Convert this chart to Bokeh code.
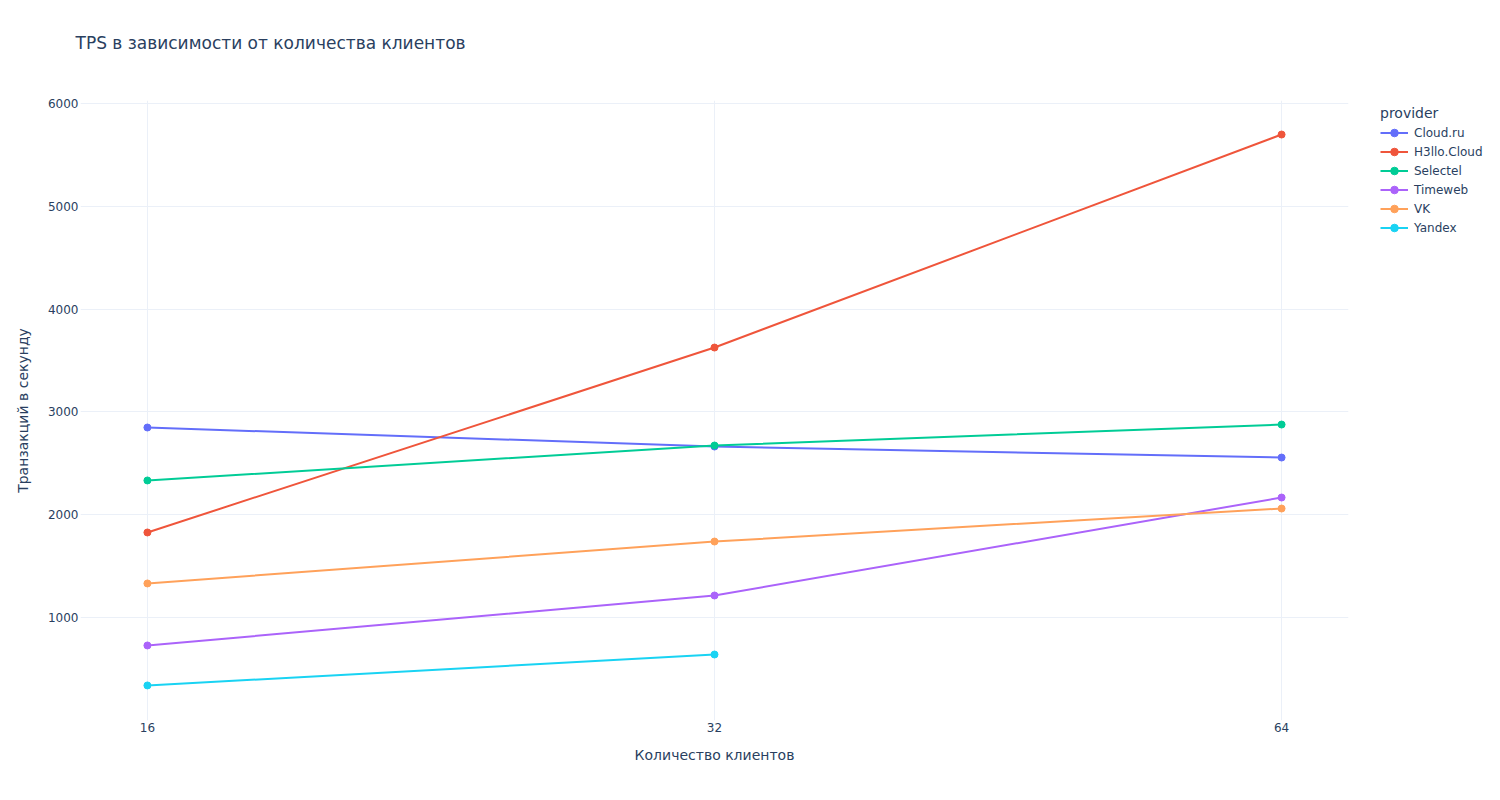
from bokeh.plotting import figure
from bokeh.models import Range1d, FixedTicker, NumeralTickFormatter, Legend, LegendItem, Title
from bokeh.embed import file_html
from bokeh.resources import INLINE

# ---- data ----
clients = [16, 32, 64]
providers = ["Cloud.ru", "H3llo.Cloud", "Selectel", "Timeweb", "VK", "Yandex"]
cloud_ru = [2848, 2663, 2556]
h3llo_cloud = [1827, 3626, 5698]
selectel = [2333, 2673, 2877]
timeweb = [728, 1214, 2167]
vk = [1331, 1739, 2060]
yandex_clients = [16, 32]
yandex = [339, 640]
y_ticks = [1000, 2000, 3000, 4000, 5000, 6000]

series = [
    ("Cloud.ru", clients, cloud_ru, "#636efa"),
    ("H3llo.Cloud", clients, h3llo_cloud, "#EF553B"),
    ("Selectel", clients, selectel, "#00cc96"),
    ("Timeweb", clients, timeweb, "#ab63fa"),
    ("VK", clients, vk, "#FFA15A"),
    ("Yandex", yandex_clients, yandex, "#19d3f3"),
]

FONT = "DejaVu Sans"
TXT = "#2a3f5f"
GRID = "#EBF0F8"

p = figure(
    frame_width=1268, frame_height=620,
    x_axis_type="log",
    x_range=Range1d(16 * 2 ** -0.118, 64 * 2 ** 0.118),
    y_range=Range1d(-2, 6029),
    output_backend="svg", toolbar_location=None,
    min_border_left=80, min_border_right=152, min_border_top=100, min_border_bottom=80,
)
p.outline_line_color = None
p.background_fill_color = "white"
p.border_fill_color = "white"

# spacer between frame and title (closest to the frame)
spacer = Title(text=" ", text_font_size="1px", standoff=45)
p.add_layout(spacer, "above")

p.title.text = "TPS в зависимости от количества клиентов"
p.title.text_font = FONT
p.title.text_font_size = "17px"
p.title.text_font_style = "normal"
p.title.text_color = TXT
p.title.offset = -5
p.title.standoff = 0

# x axis
p.xaxis.ticker = FixedTicker(ticks=clients, minor_ticks=[])
p.xaxis.formatter = NumeralTickFormatter(format="0")
p.xaxis.axis_label = "Количество клиентов"
# y axis
p.yaxis.ticker = FixedTicker(ticks=y_ticks, minor_ticks=[])
p.yaxis.axis_label = "Транзакций в секунду"

for ax in (p.xaxis[0], p.yaxis[0]):
    ax.axis_line_color = None
    ax.major_tick_line_color = None
    ax.minor_tick_line_color = None
    ax.major_tick_out = 0
    ax.major_tick_in = 0
    ax.major_label_text_font = FONT
    ax.major_label_text_font_size = "12px"
    ax.major_label_text_color = TXT
    ax.axis_label_text_font = FONT
    ax.axis_label_text_font_size = "14px"
    ax.axis_label_text_font_style = "normal"
    ax.axis_label_text_color = TXT
p.xaxis.major_label_standoff = 2
p.xaxis.axis_label_standoff = 12
p.yaxis.major_label_standoff = 2
p.yaxis.axis_label_standoff = 14

p.xgrid.grid_line_color = GRID
p.ygrid.grid_line_color = GRID
p.xgrid.grid_line_width = 1
p.ygrid.grid_line_width = 1

items = []
for name, xs, ys, color in series:
    l = p.line(xs, ys, line_color=color, line_width=2)
    s = p.scatter(xs, ys, size=7, fill_color=color, line_color=color)
    items.append(LegendItem(label=name, renderers=[l, s]))

legend = Legend(
    items=items,
    location=(32, 483),
    title="provider",
    title_text_font=FONT,
    title_text_font_size="14px",
    title_text_font_style="normal",
    title_text_color=TXT,
    title_standoff=2,
    label_text_font=FONT,
    label_text_font_size="12px",
    label_text_color=TXT,
    glyph_width=28,
    glyph_height=19,
    label_height=19,
    label_standoff=6,
    spacing=0,
    padding=0,
    margin=0,
    border_line_color=None,
    background_fill_alpha=0,
)
p.add_layout(legend, "right")

open("out.html", "w").write(file_html(p, INLINE))
